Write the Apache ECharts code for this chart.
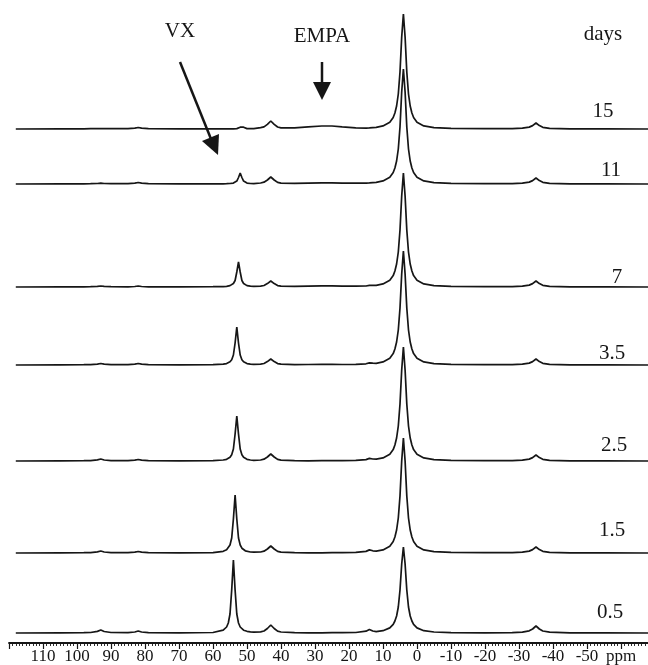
<!DOCTYPE html>
<html>
<head>
<meta charset="utf-8">
<script src="https://cdn.jsdelivr.net/npm/echarts@6/dist/echarts.min.js"></script>
<style>
  html, body { margin: 0; padding: 0; background: #fff; }
  #chart { width: 648px; height: 665px; }
</style>
</head>
<body>
<div id="chart"></div>
<script>
// chemical shift sample positions (ppm), shared by every spectrum
const ppm = [118, 105, 98, 96, 94, 93, 92, 90, 85, 83, 82, 81, 79, 70, 60,
  57, 56, 55.5, 55, 54.5, 54, 53.5, 53, 52.5, 52, 51.5, 51, 50.5, 50, 49, 48,
  46, 45, 44, 43, 42, 41, 40, 36, 32, 28, 25, 22,
  18, 15, 14, 13, 12, 10, 8, 7, 6.5, 6, 5.5, 5, 4.5, 4, 3.5, 3, 2.5, 2, 1.5, 1, 0, -2, -5, -10,
  -20, -28, -31, -33, -34, -35, -36, -37, -39, -45, -55, -68]

const days = ['15', '11', '7', '3.5', '2.5', '1.5', '0.5']

// intensities (arbitrary units)
const d15 = [
  0, 0.2, 0.2, 0.3, 0.4, 0.5, 0.4, 0.3, 0.3, 0.8, 1.5, 0.8, 0.3, 0.2, 0.2,
  0.1, 0.1, 0.1, 0.1, 0.1, 0.2, 0.2, 0.4, 0.8, 1.8, 3, 1.8, 0.8, 0.4, 0.3, 0.4,
  1.3, 2.1, 4.6, 8, 4.6, 2, 1.2, 1.2, 2.2, 3, 3, 2.2,
  1.2, 0.9, 1.1, 1.4, 1.7, 3.1, 6.8, 11.5, 16, 23, 35, 57, 92, 115, 92, 57, 35, 23, 16, 11.5, 6.8, 3.1, 1.4, 0.6,
  0.3, 0.4, 0.8, 1.9, 3.4, 6, 3.4, 1.7, 0.7, 0.2, 0.1, 0]
const d11 = [
  0, 0.2, 0.2, 0.3, 0.5, 0.8, 0.5, 0.3, 0.3, 0.8, 1.5, 0.8, 0.3, 0.2, 0.2,
  0.2, 0.3, 0.4, 0.5, 0.7, 0.9, 1.6, 2.9, 6.5, 11, 6.5, 2.9, 1.6, 0.9, 0.5, 0.4,
  1, 1.8, 4, 7, 4, 1.6, 0.9, 0.6, 0.9, 1.1, 1.1, 0.8,
  0.8, 0.9, 1.1, 1.4, 1.7, 3.1, 6.8, 11.5, 16, 23, 35, 57, 92, 115, 92, 57, 35, 23, 16, 11.5, 6.8, 3.1, 1.4, 0.6,
  0.3, 0.4, 0.8, 1.9, 3.4, 6, 3.4, 1.7, 0.7, 0.2, 0.1, 0]
const d7 = [
  0, 0.2, 0.2, 0.3, 0.6, 1, 0.6, 0.3, 0.2, 0.5, 1, 0.5, 0.2, 0.2, 0.3,
  0.4, 0.7, 1, 1.4, 2.1, 3.5, 6.5, 15, 25, 15, 6.5, 3.5, 2.1, 1.4, 0.8, 0.6,
  0.9, 1.5, 3.4, 6, 3.4, 1.4, 0.8, 0.6, 0.9, 1.1, 1.1, 0.8,
  0.8, 1, 1.6, 1.6, 1.7, 3.1, 6.8, 11.4, 16, 23, 35, 57, 91, 114, 91, 57, 35, 23, 16, 11.4, 6.8, 3.1, 1.4, 0.6,
  0.3, 0.4, 0.8, 1.9, 3.4, 6, 3.4, 1.7, 0.7, 0.2, 0.1, 0]
const d3_5 = [
  0, 0.2, 0.3, 0.4, 0.9, 1.5, 0.8, 0.3, 0.3, 0.8, 1.5, 0.8, 0.3, 0.2, 0.3,
  0.9, 1.4, 2.1, 3.2, 5.3, 10, 22, 38, 22, 10, 5.3, 3.2, 2.1, 1.4, 0.9, 0.6,
  0.9, 1.5, 3.4, 6, 3.4, 1.4, 0.8, 0.4, 0.5, 0.6, 0.6, 0.5,
  0.7, 1.2, 2.1, 1.8, 1.7, 3.1, 6.8, 11.4, 16, 23, 35, 57, 91, 114, 91, 57, 35, 23, 16, 11.4, 6.8, 3.1, 1.4, 0.6,
  0.3, 0.4, 0.8, 1.9, 3.4, 6, 3.4, 1.7, 0.7, 0.2, 0.1, 0]
const d2_5 = [
  0, 0.2, 0.3, 0.4, 1.1, 2, 1, 0.4, 0.3, 0.8, 1.5, 0.8, 0.3, 0.2, 0.3,
  1, 1.7, 2.5, 3.7, 6.3, 12, 27, 45, 27, 12, 6.3, 3.7, 2.5, 1.7, 1, 0.7,
  1, 1.8, 4, 7, 4, 1.6, 0.9, 0.3, 0.2, 0.3, 0.3, 0.4,
  0.7, 1.4, 2.6, 2, 1.8, 3.1, 6.8, 11.4, 16, 23, 35, 57, 91, 114, 91, 57, 35, 23, 16, 11.4, 6.8, 3.1, 1.4, 0.6,
  0.3, 0.4, 0.8, 1.9, 3.4, 6, 3.4, 1.7, 0.7, 0.2, 0.1, 0]
const d1_5 = [
  0, 0.2, 0.3, 0.4, 1.1, 2, 1, 0.4, 0.3, 0.8, 1.5, 0.8, 0.3, 0.2, 0.4,
  1.7, 3.2, 4.8, 8, 15, 34, 58, 34, 15, 8, 4.8, 3.2, 2.2, 1.7, 1, 0.8,
  1, 1.8, 4, 7, 4, 1.6, 0.9, 0.3, 0.2, 0.2, 0.3, 0.4,
  0.7, 1.6, 3.1, 2.2, 1.8, 3.1, 6.8, 11.5, 16, 23, 35, 57, 92, 115, 92, 57, 35, 23, 16, 11.5, 6.8, 3.1, 1.4, 0.6,
  0.3, 0.4, 0.8, 1.9, 3.4, 6, 3.4, 1.7, 0.7, 0.2, 0.1, 0]
const d0_5 = [
  0, 0.2, 0.3, 0.5, 1.6, 3, 1.5, 0.5, 0.4, 1, 2, 1, 0.3, 0.2, 0.5,
  2.8, 6, 10, 19, 43, 73, 43, 19, 10, 6, 4, 2.8, 2.1, 1.7, 1.2, 0.9,
  1.2, 2, 4.5, 8, 4.5, 1.8, 1, 0.3, 0.2, 0.2, 0.3, 0.3,
  0.5, 1.8, 3.6, 2, 1.4, 2.3, 5.1, 8.6, 12, 17, 26, 43, 69, 86, 69, 43, 26, 17, 12, 8.6, 5.1, 2.3, 1, 0.4,
  0.2, 0.4, 0.9, 2.2, 4, 7, 4, 2, 0.8, 0.2, 0.1, 0]

const spectra = [d15, d11, d7, d3_5, d2_5, d1_5, d0_5]

// layout: top of each strip (baseline sits 120px lower), day label spots
const rowTop = [9, 64, 167, 245, 341, 433, 513]
const labelPos = [[603, 111], [611, 170], [617, 277], [612, 353], [614, 445], [612, 530], [610, 612]]

const FONT = '"Liberation Serif", "DejaVu Serif", serif'
const INK = '#161616'

const chart = echarts.init(document.getElementById('chart'))

const last = spectra.length - 1
const grids = rowTop.map(top => ({
  left: 9, right: -7, top, height: 130,
  containLabel: false, outerBoundsMode: 'none',
}))

const xAxes = rowTop.map((_, i) => ({
  type: 'value',
  gridIndex: i,
  inverse: true,
  min: -70,
  max: 120,
  interval: 10,
  show: i === last,
  splitLine: { show: false },
  axisLine: { show: true, onZero: false, lineStyle: { color: INK, width: 1.8 } },
  axisTick: { show: true, length: 6, lineStyle: { color: INK, width: 1.2 } },
  minorTick: { show: true, splitNumber: 10, length: 3, lineStyle: { color: INK, width: 0.9 } },
  axisLabel: {
    show: true,
    margin: 5,
    color: INK,
    fontFamily: FONT,
    fontSize: 17,
    formatter: v => (v === 120 || v === -70) ? '' : (v === -60 ? 'ppm' : String(v)),
  },
}))

const yAxes = rowTop.map((_, i) => ({
  type: 'value', gridIndex: i, min: -10, max: 120, show: false,
}))

const series = spectra.map((vals, i) => ({
  type: 'line',
  name: days[i],
  xAxisIndex: i,
  yAxisIndex: i,
  data: ppm.map((p, j) => [p, vals[j]]),
  showSymbol: false,
  smooth: false,
  clip: false,
  lineStyle: { color: INK, width: 1.7 },
  emphasis: { disabled: true },
}))

const text = (str, x, y) => ({
  type: 'text', x, y,
  style: { text: str, fill: INK, font: '21px ' + FONT, align: 'center', verticalAlign: 'middle' },
})

const graphic = [
  text('VX', 180, 31),
  text('EMPA', 322, 36),
  text('days', 603, 34),
  ...days.map((d, i) => text(d, labelPos[i][0], labelPos[i][1])),
  // VX arrow
  { type: 'line', shape: { x1: 180, y1: 62, x2: 211, y2: 139 }, style: { stroke: INK, lineWidth: 2.5 } },
  { type: 'polygon', shape: { points: [[218, 155], [202, 141], [219, 134]] }, style: { fill: INK } },
  // EMPA arrow
  { type: 'line', shape: { x1: 322, y1: 62, x2: 322, y2: 85 }, style: { stroke: INK, lineWidth: 2.5 } },
  { type: 'polygon', shape: { points: [[322, 100], [313, 82], [331, 82]] }, style: { fill: INK } },
]

chart.setOption({
  animation: false,
  backgroundColor: '#fff',
  textStyle: { fontFamily: FONT },
  grid: grids,
  xAxis: xAxes,
  yAxis: yAxes,
  series,
  graphic,
})
</script>
</body>
</html>
